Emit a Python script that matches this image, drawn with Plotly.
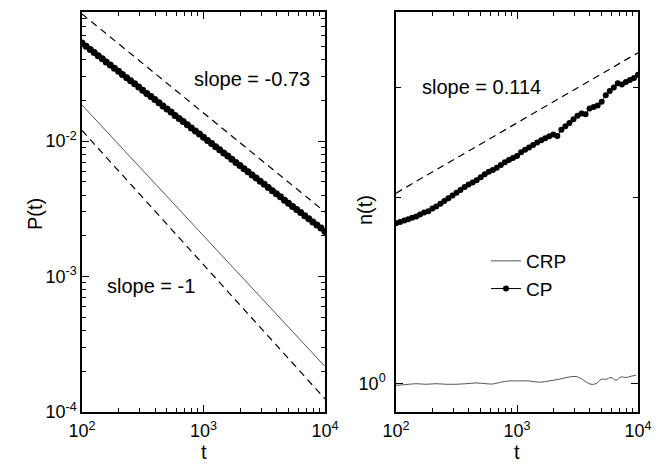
import plotly.graph_objects as go

# ---------------- data ----------------
t_cp = [100, 108, 117, 126, 136, 147, 158, 171, 185, 200, 215, 233, 251, 271, 293,
        316, 341, 369, 398, 430, 464, 501, 541, 584, 631, 681, 736, 794, 858, 926,
        1000, 1080, 1166, 1259, 1359, 1468, 1585, 1711, 1848, 1995, 2154, 2326, 2512,
        2712, 2929, 3162, 3415, 3687, 3981, 4299, 4642, 5012, 5412, 5843, 6310, 6813,
        7356, 7943, 8577, 9261, 10000]

P_cp = [0.0530, 0.0502, 0.0476, 0.0451, 0.0428, 0.0406, 0.0385, 0.0365, 0.0346, 0.0328,
        0.0311, 0.0294, 0.0279, 0.0265, 0.0251, 0.0238, 0.0225, 0.0214, 0.0203, 0.0192,
        0.0182, 0.0173, 0.0164, 0.0155, 0.0147, 0.0140, 0.0132, 0.0125, 0.0119, 0.0113,
        0.0107, 0.0101, 0.00960, 0.00910, 0.00863, 0.00818, 0.00776, 0.00735, 0.00697,
        0.00661, 0.00627, 0.00594, 0.00563, 0.00534, 0.00506, 0.00480, 0.00455, 0.00431,
        0.00409, 0.00388, 0.00367, 0.00348, 0.00330, 0.00313, 0.00297, 0.00281, 0.00267,
        0.00253, 0.00240, 0.00228, 0.00215]

n_cp = [1.815, 1.824, 1.834, 1.843, 1.852, 1.861, 1.875, 1.889, 1.898, 1.918, 1.932,
        1.951, 1.971, 1.991, 2.012, 2.032, 2.054, 2.077, 2.096, 2.112, 2.129, 2.153,
        2.178, 2.197, 2.213, 2.231, 2.253, 2.276, 2.295, 2.312, 2.331, 2.362, 2.384,
        2.406, 2.428, 2.449, 2.470, 2.489, 2.507, 2.525, 2.511, 2.568, 2.602, 2.635,
        2.670, 2.707, 2.729, 2.722, 2.779, 2.795, 2.811, 2.850, 2.920, 2.966, 3.004,
        3.052, 3.039, 3.067, 3.090, 3.113, 3.151]

t_crp_P = [100, 200, 500, 1000, 2000, 5000, 10000]
P_crp = [0.0185, 0.00948, 0.00391, 0.00200, 0.00103, 0.000424, 0.000217]

t_crp_n = [100, 121, 146, 177, 214, 259, 313, 379, 459, 555, 630, 715, 865, 1046, 1265,
           1530, 1850, 2239, 2708, 3075, 3383, 3719, 4089, 4496, 4943, 5440, 5983, 6577,
           7240, 7960, 8750, 9620]
n_crp = [0.994, 0.997, 1.000, 0.998, 1.000, 0.998, 0.998, 1.000, 1.003, 1.000, 0.999,
         1.0045, 1.0105, 1.0105, 1.0105, 1.0056, 1.0105, 1.0169, 1.0256, 1.027, 1.0195,
         1.0067, 0.998, 1.000, 1.0158, 1.0169, 1.0233, 1.013, 1.0256, 1.0233, 1.0283, 1.032]

# reference power-law guide lines (end points)
t_fit = [100, 10000]
P_fit_073 = [0.087, 0.0030]     # slope -0.73
P_fit_1 = [0.0120, 0.000125]    # slope -1
n_fit_0114 = [2.03, 3.42]       # slope 0.114

x_tickvals = [100, 1000, 10000]
x_ticktext = ["10<sup>2</sup>", "10<sup>3</sup>", "10<sup>4</sup>"]
x_minor = [200, 300, 400, 500, 600, 700, 800, 900, 2000, 3000, 4000, 5000, 6000, 7000, 8000, 9000]
P_tickvals = [1e-4, 1e-3, 1e-2]
P_ticktext = ["10<sup>-4</sup>", "10<sup>-3</sup>", "10<sup>-2</sup>"]
P_minor = [2e-4, 3e-4, 4e-4, 5e-4, 6e-4, 7e-4, 8e-4, 9e-4,
           2e-3, 3e-3, 4e-3, 5e-3, 6e-3, 7e-3, 8e-3, 9e-3,
           2e-2, 3e-2, 4e-2, 5e-2, 6e-2, 7e-2, 8e-2]
n_tickvals = [1]
n_ticktext = ["10<sup>0</sup>"]
n_minor = [2, 3]

FONT = "Arial, Liberation Sans, sans-serif"

fig = go.Figure()

dash = "7px,5px"
# left panel
fig.add_trace(go.Scatter(x=t_fit, y=P_fit_073, mode="lines", line=dict(color="black", width=1.2, dash=dash),
                         xaxis="x", yaxis="y", showlegend=False))
fig.add_trace(go.Scatter(x=t_fit, y=P_fit_1, mode="lines", line=dict(color="black", width=1.2, dash=dash),
                         xaxis="x", yaxis="y", showlegend=False))
fig.add_trace(go.Scatter(x=t_crp_P, y=P_crp, mode="lines", line=dict(color="#555555", width=1),
                         xaxis="x", yaxis="y", showlegend=False))
fig.add_trace(go.Scatter(x=t_cp, y=P_cp, mode="markers", marker=dict(color="black", size=7),
                         xaxis="x", yaxis="y", showlegend=False))
# right panel
fig.add_trace(go.Scatter(x=t_fit, y=n_fit_0114, mode="lines", line=dict(color="black", width=1.2, dash=dash),
                         xaxis="x2", yaxis="y2", showlegend=False))
fig.add_trace(go.Scatter(x=t_crp_n, y=n_crp, mode="lines", line=dict(color="#555555", width=1, shape="spline"),
                         xaxis="x2", yaxis="y2", name="CRP"))
fig.add_trace(go.Scatter(x=t_cp, y=n_cp, mode="lines+markers", line=dict(color="black", width=1),
                         marker=dict(color="black", size=6),
                         xaxis="x2", yaxis="y2", name="CP"))

W, H = 663, 470
ydom = [(H - 412) / H, (H - 12) / H]

common = dict(type="log", showgrid=False, zeroline=False, showline=True, linecolor="black",
              linewidth=1.5, ticks="inside", ticklen=7, tickwidth=1.2, tickcolor="black",
              mirror="allticks", automargin=False,
              tickfont=dict(family=FONT, size=18, color="black"))

# outside stubs of the major ticks (ticks cross the frame in the reference)
stub = dict(type="log", showgrid=False, zeroline=False, showline=False, ticks="outside",
            ticklen=4, tickwidth=1.2, tickcolor="black", showticklabels=False, automargin=False)

fig.update_layout(
    width=W, height=H, margin=dict(l=0, r=0, t=0, b=0, pad=0, autoexpand=False),
    paper_bgcolor="white", plot_bgcolor="white",
    font=dict(family=FONT, color="black"),
    xaxis=dict(common, domain=[82 / W, 325 / W], range=[2, 4], tickvals=x_tickvals, ticktext=x_ticktext,
               minor=dict(tickvals=x_minor, ticks="inside", ticklen=4, tickcolor="black"),
               anchor="y", ticklabelstandoff=2),
    yaxis=dict(common, domain=ydom, range=[-4, -1.046], tickvals=P_tickvals, ticktext=P_ticktext,
               minor=dict(tickvals=P_minor, ticks="inside", ticklen=4, tickcolor="black"),
               anchor="x", ticklabelstandoff=0),
    xaxis2=dict(common, domain=[396 / W, 638 / W], range=[2, 4], tickvals=x_tickvals, ticktext=x_ticktext,
                minor=dict(tickvals=x_minor, ticks="inside", ticklen=4, tickcolor="black"),
                anchor="y2", ticklabelstandoff=2),
    yaxis2=dict(common, domain=ydom, range=[-0.0456, 0.5997], tickvals=n_tickvals, ticktext=n_ticktext,
                minor=dict(tickvals=n_minor, ticks="inside", ticklen=5, tickcolor="black"),
                anchor="x2", ticklabelstandoff=5),
    xaxis3=dict(stub, overlaying="x", anchor="y", side="bottom", range=[2, 4], tickvals=x_tickvals),
    yaxis3=dict(stub, overlaying="y", anchor="x", side="left", range=[-4, -1.046], tickvals=P_tickvals),
    xaxis4=dict(stub, overlaying="x2", anchor="y2", side="bottom", range=[2, 4], tickvals=x_tickvals),
    yaxis4=dict(stub, overlaying="y2", anchor="x2", side="left", range=[-0.0456, 0.5997], tickvals=n_tickvals),
    legend=dict(x=486 / W, y=(H - 242) / H, xanchor="left", yanchor="top",
                font=dict(family=FONT, size=19, color="black"), bgcolor="rgba(0,0,0,0)",
                tracegroupgap=0, itemwidth=30),
    showlegend=True,
)

def px_ann(text, x, y, size=20, angle=0):
    fig.add_annotation(text=text, x=x / W, y=(H - y) / H, xref="paper", yref="paper",
                       showarrow=False, xanchor="center", yanchor="middle", textangle=angle,
                       font=dict(family=FONT, size=size, color="black"))

px_ann("slope = -0.73", 252, 79)
px_ann("slope = -1", 151, 286)
px_ann("slope = 0.114", 481, 87)
px_ann("t", 204, 452, size=20)
px_ann("t", 517, 452, size=20)
px_ann("P(t)", 35, 214, size=20, angle=-90)
px_ann("n(t)", 365, 210, size=20, angle=-90)

fig.write_html("out.html", config={"displayModeBar": False},
               post_script="document.body.style.margin='0px';")
